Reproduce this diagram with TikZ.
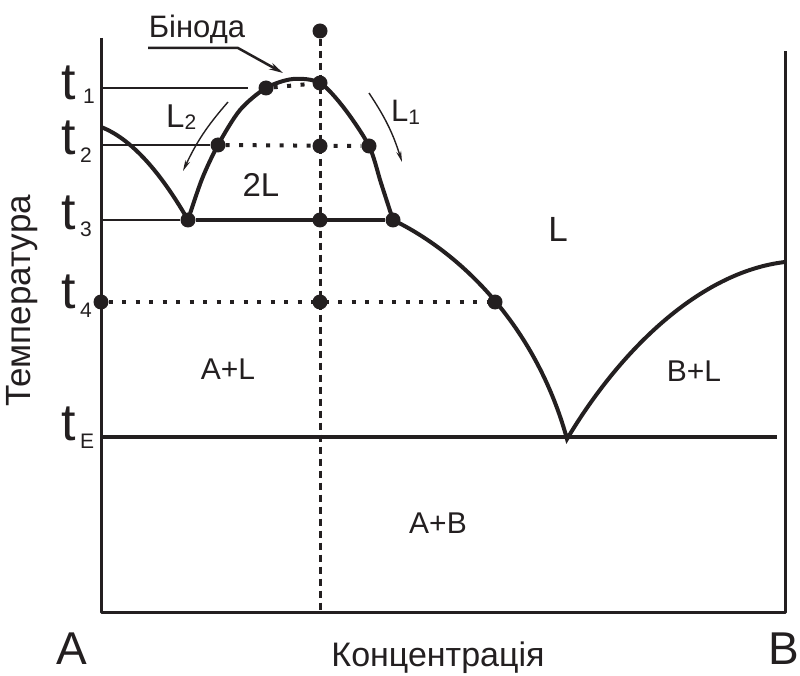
\documentclass[tikz,border=0pt]{standalone}
\usepackage{fontspec}
\setmainfont{Liberation Sans}
\usetikzlibrary{arrows.meta}
\definecolor{ink}{RGB}{35,31,32}

\begin{document}
\begin{tikzpicture}[x=1pt,y=-1pt,line join=round,draw=ink,
    dot/.style={circle,fill=ink,draw=none,inner sep=0pt,minimum size=15pt},
    curve/.style={line width=4pt},
    guide/.style={line width=1.4pt},
    dotline/.style={line width=4pt,dash pattern=on 4pt off 9.5pt},
    tlab/.style={font=\fontsize{52}{52}\selectfont,inner sep=0pt,anchor=base east,text=ink},
    tsub/.style={font=\fontsize{21}{21}\selectfont,inner sep=0pt,anchor=base west,text=ink},
    region/.style={font=\fontsize{30}{30}\selectfont,inner sep=0pt,anchor=base,text=ink},
]
\useasboundingbox (0,0) rectangle (800,676);
    % key points
    \coordinate (O) at (101,612);
    \coordinate (Atop) at (101,38);
    \coordinate (Bbot) at (785,612);
    \coordinate (Btop) at (785,51);
    \coordinate (T1) at (101,88);
    \coordinate (T2) at (101,145);
    \coordinate (T3) at (101,220);
    \coordinate (TE) at (101,437);
    \coordinate (TEend) at (777,437);
    \coordinate (Lstart) at (101,127);
    \coordinate (Rend) at (785,262);
    \coordinate (Eut) at (567,439);
    \coordinate (Xbot) at (320,612);
    % draw axes
    \draw[line width=3pt] (Atop) -- (O) -- (Bbot) -- (Btop);
    % draw points of the section
    \node[dot] (top) at (320,31) {};
    \node[dot] (p1L) at (266,88) {};
    \node[dot] (p1M) at (320,83) {};
    \node[dot] (p2L) at (218,145) {};
    \node[dot] (p2M) at (320,146) {};
    \node[dot] (p2R) at (369,146) {};
    \node[dot] (p3L) at (188,220) {};
    \node[dot] (p3M) at (320,220) {};
    \node[dot] (p3R) at (393,220) {};
    \node[dot] (p4A) at (101,302) {};
    \node[dot] (p4M) at (320,302) {};
    \node[dot] (p4R) at (495,302) {};
    % draw section line
    \draw[line width=3pt,dash pattern=on 7pt off 5pt] (top) -- (Xbot);
    % draw isotherms
    \draw[guide] (T1) -- (248,88);
    \draw[guide] (T2) -- (p2L);
    \draw[guide] (T3) -- (p3L);
    \draw[dotline] (p1L) -- (p1M);
    \draw[dotline] (p2L) -- (p2R);
    \draw[dotline] (p4A) -- (p4R);
    \draw[curve] (p3L) -- (p3R);
    \draw[line width=4.5pt] (TE) -- (TEend);
    % draw liquidus curves
    \draw[curve] (Lstart) .. controls (135,140) and (165,180) .. (p3L.center);
    \draw[curve,line join=miter] (p3R.center) .. controls (465,255) and (537,330) .. (Eut)
        .. controls (620,350) and (700,272) .. (Rend);
    % draw binodal
    \draw[curve] plot[smooth] coordinates {(p3L.center) (202,179) (p2L.center) (240,110)
        (p1L.center) (293,79) (p1M.center) (344,108) (p2R.center) (381,183) (p3R.center)};
    % labels of temperatures
    \node[tlab] (t1) at (76,100) {t};
    \node[tsub] (s1) at (83,104) {1};
    \node[tlab] (t2) at (76,155) {t};
    \node[tsub] (s2) at (80,163) {2};
    \node[tlab] (t3) at (76,230) {t};
    \node[tsub] (s3) at (80,237) {3};
    \node[tlab] (t4) at (76,308) {t};
    \node[tsub] (s4) at (80,317) {4};
    \node[tlab] (tE) at (76,440) {t};
    \node[tsub] (sE) at (80,448) {E};
    % binodal label
    \node[font=\fontsize{31}{31}\selectfont,inner sep=0pt,anchor=base,text=ink] (binoda) at (197,38) {Бінода};
    \coordinate (bn1) at (148,48);
    \coordinate (bn2) at (238,48);
    \coordinate (bn3) at (283,73);
    \draw[line width=2.5pt,-{Stealth[length=14pt,width=7pt]}] (bn1) -- (bn2) -- (bn3);
    % branch arrows
    \node[region,anchor=base west,font=\fontsize{33}{33}\selectfont] (L2) at (166,128) {L\raisebox{-2pt}{\fontsize{21}{21}\selectfont 2}};
    \node[region,anchor=base west,font=\fontsize{31}{31}\selectfont] (L1) at (391,122) {L\raisebox{-3pt}{\fontsize{21}{21}\selectfont 1}};
    \coordinate (a2s) at (228,102);
    \coordinate (a2e) at (183,171);
    \coordinate (a1s) at (369,93);
    \coordinate (a1e) at (402,162);
    \draw[guide,-{Stealth[length=11pt,width=5pt]}] (a2s) to[bend right=8] (a2e);
    \draw[guide,-{Stealth[length=11pt,width=5pt]}] (a1s) to[bend left=8] (a1e);
    % regions
    \node[region,font=\fontsize{33}{33}\selectfont] (twoL) at (261,197) {2L};
    \node[region,font=\fontsize{35}{35}\selectfont] (liq) at (558,242) {L};
    \node[region] (AL) at (228,379) {A+L};
    \node[region] (BL) at (694,381) {B+L};
    \node[region] (AB) at (438,533) {A+B};
    % axis labels
    \node[region,font=\fontsize{46}{46}\selectfont] (compA) at (72,664) {A};
    \node[region,font=\fontsize{46}{46}\selectfont,anchor=base west] (compB) at (768,664) {B};
    \node[region,font=\fontsize{34}{34}\selectfont] (conc) at (438,666) {Концентрація};
    \node[font=\fontsize{35}{35}\selectfont,inner sep=0pt,text=ink,rotate=90] (temp) at (22,301) {Температура};
\end{tikzpicture}
\end{document}
